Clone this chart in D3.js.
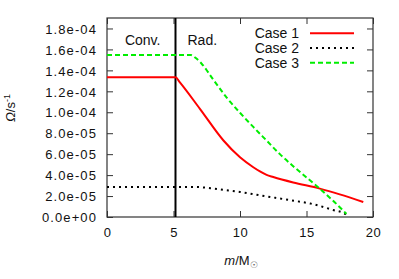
<!DOCTYPE html>
<html><head><meta charset="utf-8">
<script src="https://cdn.jsdelivr.net/npm/d3@7"></script>
<style>body{margin:0;background:#fff}svg{display:block}text{font-family:"Liberation Sans",Arial,sans-serif;fill:#111}</style>
</head><body><svg id="c" width="399" height="279"></svg>
<script>
const xTicks = [0, 5, 10, 15, 20];
const yTicks = [0, 2e-5, 4e-5, 6e-5, 8e-5, 1e-4, 1.2e-4, 1.4e-4, 1.6e-4, 1.8e-4];
const yTickLabels = ["0.0e+00","2.0e-05","4.0e-05","6.0e-05","8.0e-05","1.0e-04","1.2e-04","1.4e-04","1.6e-04","1.8e-04"];
const boundary = 5.15;
const regionLabels = ["Conv.", "Rad."];
const seriesNames = ["Case 1", "Case 2", "Case 3"];
const case1 = [[0,1.335e-4],[5.15,1.335e-4],[5.45,1.29e-4],[7.0,1.03e-4],[8.74,7.33e-5],[10.0,5.7e-5],[11.0,4.75e-5],[11.5,4.35e-5],[12.0,4.02e-5],[12.5,3.82e-5],[14,3.3e-5],[16,2.71e-5],[17.5,2.16e-5],[19.27,1.43e-5]];
const case2 = [[0,2.87e-5],[6.5,2.87e-5],[8,2.72e-5],[9,2.56e-5],[10,2.39e-5],[11.5,2.07e-5],[13.8,1.6e-5],[15.3,1.28e-5],[17.0,6.7e-6],[17.9,3e-6],[18.0,1.5e-6]];
const case3 = [[0,1.547e-4],[6.3,1.547e-4],[6.65,1.52e-4],[7.1,1.466e-4],[8,1.31e-4],[9,1.14e-4],[10,9.95e-5],[11,8.6e-5],[12,7.3e-5],[13,6.0e-5],[14,4.85e-5],[15,3.78e-5],[16,2.7e-5],[17,1.55e-5],[18,3e-6]];

const svg = d3.select("#c");
const L = 107, R = 373, T = 18, B = 217;
const x = d3.scaleLinear().domain([0, 20]).range([L, R]);
const y = d3.scaleLinear().domain([0, 1.9e-4]).range([B, T]);

const frame = "#333";
const g = svg.append("g");
const yl = g.append("g").attr("transform", `translate(${L},0)`)
  .call(d3.axisLeft(y).tickValues(yTicks).tickSize(-6).tickPadding(10).tickFormat((d,i)=>yTickLabels[i]));
g.append("g").attr("transform", `translate(${R},0)`)
  .call(d3.axisRight(y).tickValues(yTicks).tickSize(-6).tickFormat(""));
const xb = g.append("g").attr("transform", `translate(0,${B})`)
  .call(d3.axisBottom(x).tickValues(xTicks).tickSize(-6).tickPadding(11).tickFormat(d3.format("d")));
g.append("g").attr("transform", `translate(0,${T})`)
  .call(d3.axisTop(x).tickValues(xTicks).tickSize(-6).tickFormat(""));
g.selectAll(".domain").remove();
g.selectAll(".tick line").attr("stroke", frame).attr("stroke-width", 1);
g.selectAll(".tick text").style("font-size", "13px").style("letter-spacing", "1.1px").attr("fill", "#111");
yl.selectAll(".tick text").attr("dy", "0.36em");
xb.selectAll(".tick text").attr("dy", "0.71em").style("letter-spacing","0.5px");

svg.append("rect").attr("x", L).attr("y", T).attr("width", R - L).attr("height", B - T)
  .attr("fill", "none").attr("stroke", frame).attr("stroke-width", 1.2);

svg.append("line").attr("x1", x(boundary)).attr("x2", x(boundary)).attr("y1", T).attr("y2", B)
  .attr("stroke", "#000").attr("stroke-width", 2);
svg.append("text").attr("x", x(boundary) - 15).attr("y", 45).attr("text-anchor", "end")
  .style("font-size", "14px").text(regionLabels[0]);
svg.append("text").attr("x", x(boundary) + 12).attr("y", 45)
  .style("font-size", "14px").text(regionLabels[1]);

const line = d3.line().x(d => x(d[0])).y(d => y(d[1])).curve(d3.curveMonotoneX);
const styles = [
  {data: case1, color: "#ff0000", dash: null},
  {data: case2, color: "#000000", dash: "2,4"},
  {data: case3, color: "#00ee00", dash: "5,3"}
];
styles.forEach(s => {
  svg.append("path").datum(s.data).attr("d", line).attr("fill", "none")
    .attr("stroke", s.color).attr("stroke-width", 2).attr("stroke-dasharray", s.dash);
});

styles.forEach((s, i) => {
  const by = 38.3 + i * 14.7;
  svg.append("text").attr("x", 299).attr("y", by).attr("text-anchor", "end")
    .style("font-size", "14px").text(seriesNames[i]);
  svg.append("line").attr("x1", 310).attr("x2", 354).attr("y1", by - 5).attr("y2", by - 5)
    .attr("stroke", s.color).attr("stroke-width", 2).attr("stroke-dasharray", s.dash);
});

const xl = svg.append("text").attr("x", 241).attr("y", 265).attr("text-anchor", "middle").style("font-size", "13px");
xl.append("tspan").style("font-style", "italic").text("m");
xl.append("tspan").text("/M");
xl.append("tspan").attr("dy", 3).style("font-size", "9px").attr("fill", "#666").text("\u2609");

const ylab = svg.append("text").attr("transform", "translate(15,108) rotate(-90)")
  .attr("text-anchor", "middle").style("font-size", "13px");
ylab.append("tspan").style("font-style", "italic").text("\u03A9");
ylab.append("tspan").text("/s");
ylab.append("tspan").attr("dy", -5).style("font-size", "9px").text("-1");
</script></body></html>
